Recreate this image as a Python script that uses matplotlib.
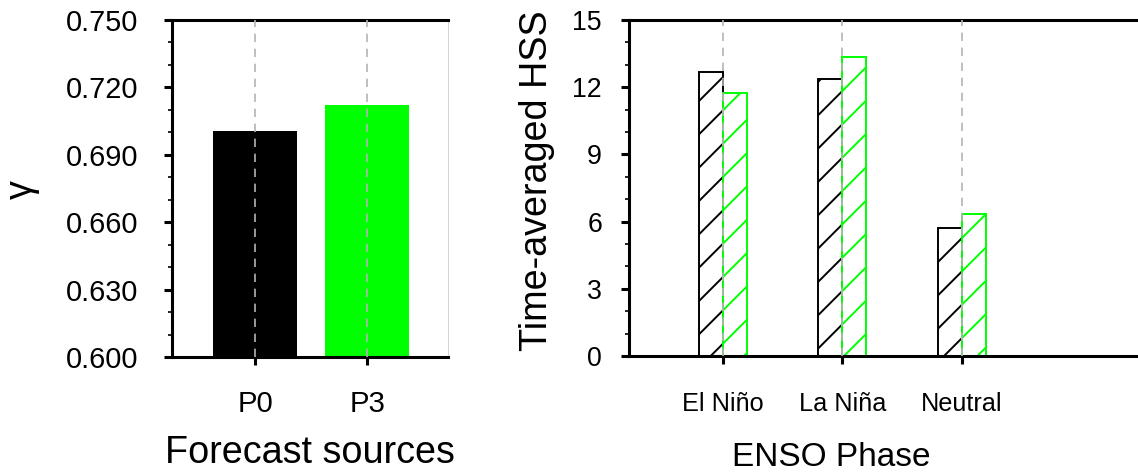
import matplotlib
matplotlib.use("Agg")
import matplotlib.pyplot as plt
from matplotlib.ticker import MultipleLocator, FormatStrFormatter
import numpy as np

# ---- data ----
sources = ["P0", "P3"]
gamma = [0.7007, 0.7121]
source_colors = ["#000000", "#00ff00"]

phases = ["El Ni\u00f1o", "La Ni\u00f1a", "Neutral"]
hss_p0 = [12.66, 12.35, 5.70]
hss_p3 = [11.76, 13.35, 6.33]

plt.rcParams["font.family"] = ["Liberation Sans", "DejaVu Sans"]
plt.rcParams["hatch.linewidth"] = 0.7

DPI = 200
W, H = 1138, 474
fig = plt.figure(figsize=(W / DPI, H / DPI), dpi=DPI)

def px_axes(x0, x1, ytop, ybot):
    return fig.add_axes([x0 / W, (H - ybot) / H, (x1 - x0) / W, (ybot - ytop) / H])

spine_w = 1.1
grid_kw = dict(color="#b4b4b4", linestyle=(0, (5, 4)), linewidth=0.6)

# ---- left panel ----
ax1 = px_axes(172, 448, 20, 357)
xpos = np.arange(len(sources))
ax1.bar(xpos, gamma, width=0.75, color=source_colors, bottom=0, zorder=1)
ax1.set_xlim(-0.74, 1.72)
ax1.set_ylim(0.600, 0.750)
ax1.yaxis.set_major_locator(MultipleLocator(0.03))
ax1.yaxis.set_minor_locator(MultipleLocator(0.01))
ax1.yaxis.set_major_formatter(FormatStrFormatter("%.3f"))
ax1.set_xticks(xpos)
ax1.set_xticklabels(sources)
ax1.tick_params(axis="y", which="major", direction="out", length=2.9, width=1.1, labelsize=10.4, pad=9.2)
ax1.tick_params(axis="y", which="minor", direction="out", length=1.4, width=0.6)
ax1.tick_params(axis="x", which="major", direction="out", length=2.9, width=1.1, labelsize=10.6, pad=9.0)
ax1.set_axisbelow(False)
ax1.grid(axis="x", **grid_kw)
ax1.set_ylabel("\u03b3", fontsize=13.6)
ax1.yaxis.set_label_coords(-0.478, 0.496)
ax1.set_xlabel("Forecast sources", fontsize=13.6, va="top")
ax1.xaxis.set_label_coords(0.5, -0.232)
for s in ["left", "top", "bottom"]:
    ax1.spines[s].set_linewidth(spine_w)
ax1.spines["right"].set_linewidth(0.3)
ax1.spines["right"].set_color("#cccccc")

# ---- right panel ----
ax2 = px_axes(629, 1138, 20, 356)
xp = np.arange(len(phases))
bw = 0.2
ax2.bar(xp - bw / 2, hss_p0, width=bw, facecolor="white", edgecolor="#000000",
        hatch="//", linewidth=0.7, zorder=1)
ax2.bar(xp + bw / 2, hss_p3, width=bw, facecolor="white", edgecolor="#00ff00",
        hatch="//", linewidth=0.7, zorder=1)
ax2.set_xlim(-0.784, 3.475)
ax2.set_ylim(0, 15)
ax2.yaxis.set_major_locator(MultipleLocator(3))
ax2.yaxis.set_minor_locator(MultipleLocator(1))
ax2.set_xticks(xp)
ax2.set_xticklabels(phases)
ax2.tick_params(axis="y", which="major", direction="out", length=2.9, width=1.1, labelsize=9.6, pad=6.8)
ax2.tick_params(axis="y", which="minor", direction="out", length=1.4, width=0.6)
ax2.tick_params(axis="x", which="major", direction="out", length=2.9, width=1.1, labelsize=9.1, pad=10.0)
ax2.set_axisbelow(False)
ax2.grid(axis="x", **grid_kw)
ax2.set_ylabel("Time-averaged HSS", fontsize=13.6)
ax2.yaxis.set_label_coords(-0.145, 0.521)
ax2.set_xlabel("ENSO Phase", fontsize=12.0, va="top")
ax2.xaxis.set_label_coords(0.398, -0.256)
for s in ["left", "top", "bottom"]:
    ax2.spines[s].set_linewidth(spine_w)
ax2.spines["right"].set_visible(False)

fig.savefig("out.png", dpi=DPI)
